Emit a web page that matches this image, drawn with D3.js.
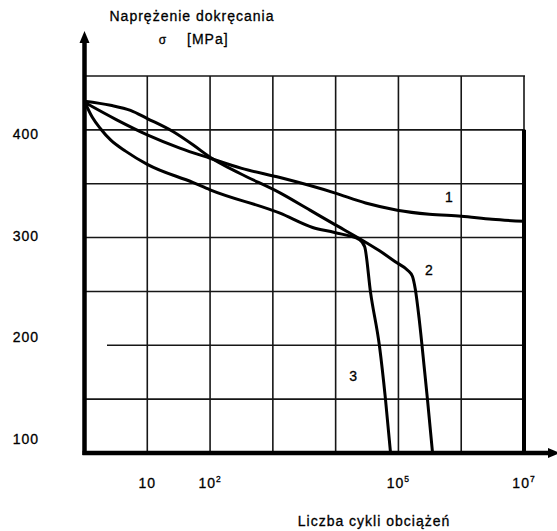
<!DOCTYPE html>
<html>
<head>
<meta charset="utf-8">
<script src="https://cdn.jsdelivr.net/npm/d3@7"></script>
<style>
  html, body { margin: 0; padding: 0; background: #fff; }
  svg { display: block; font-family: "Liberation Sans", Arial, sans-serif; }
</style>
</head>
<body>
<svg id="chart" width="557" height="531"></svg>
<script>
// Axis texts
const yTitle = "Naprężenie dokręcania";
const ySymbol = "σ";
const yUnit = "[MPa]";
const xTitle = "Liczba cykli obciążeń";

// Tick values
const stressTicks = [100, 200, 300, 400];
const cycleTickExponents = [1, 2, 5, 7];
const cycleGridValues = [1e1, 1e2, 1e3, 1e4, 1e5, 1e6];

// Curve 1 – stays high, flattens out towards 10^7 cycles
const curve1Cycles = [1, 3.2, 10, 33, 100, 320, 1.3e3, 9.6e3, 3e4, 9.6e4, 3.1e5, 1e6, 3.1e6, 1e7];
const curve1Stress = [431, 414, 399, 386, 376, 366, 357, 342, 332, 325, 321, 319, 316, 314];

// Curve 2 – bulges above at first, then breaks down past 10^5
const curve2Cycles = [1, 2.6, 5.4, 10, 26, 54, 100, 300, 1.3e3, 3.9e3, 9.6e3, 2.4e4, 5e4, 9.6e4, 1.4e5, 1.67e5, 1.86e5, 2.15e5, 2.6e5, 2.9e5, 3.5e5];
const curve2Stress = [432, 428, 423, 415, 402, 389, 377, 361, 342, 325, 311, 297, 285, 273, 266, 260, 247, 217, 168, 139, 86];

// Curve 3 – drops quickly, breaks down just above 10^4
const curve3Cycles = [1, 1.34, 1.8, 2.6, 4.5, 10, 54, 100, 1.3e3, 4.3e3, 9.6e3, 2.4e4, 2.9e4, 3.6e4, 5e4, 6.2e4, 7.5e4];
const curve3Stress = [432, 416, 405, 394, 383, 370, 352, 345, 322, 308, 303, 296, 289, 244, 191, 140, 86];

// Curve number labels, placed in data coordinates
const curveNames = ["1", "2", "3"];
const curveLabelCycles = [6.5e5, 3.1e5, 1.93e4];
const curveLabelStress = [338, 266, 162];

const series = [
  { cycles: curve1Cycles, stress: curve1Stress },
  { cycles: curve2Cycles, stress: curve2Stress },
  { cycles: curve3Cycles, stress: curve3Stress }
];

// Layout
const frame = { left: 84.5, right: 524, top: 76, bottom: 453 };
const ink = "#000";
const gridInk = "#161616";

const svg = d3.select("#chart");

const x = d3.scaleLog().domain([1, 1e7]).range([frame.left, frame.right]);
const y = d3.scaleLinear().domain([86.4, 456.8]).range([frame.bottom, frame.top]);

// Grid: one column per decade, seven equal rows
const grid = svg.append("g").attr("stroke", gridInk).attr("stroke-width", 1.6).attr("fill", "none");

grid.selectAll("line.v").data(cycleGridValues).join("line")
  .attr("class", "v")
  .attr("x1", d => x(d)).attr("x2", d => x(d))
  .attr("y1", frame.top).attr("y2", frame.bottom);

const rows = 7;
const rowYs = d3.range(0, rows).map(i => frame.top + i * (frame.bottom - frame.top) / rows);
grid.selectAll("line.h").data(rowYs).join("line")
  .attr("class", "h")
  .attr("x1", (d, i) => i === 5 ? frame.left + 22.5 : frame.left)
  .attr("x2", frame.right + 1)
  .attr("y1", d => d).attr("y2", d => d);

// Right border: thin at the top, heavy below
grid.append("line")
  .attr("x1", frame.right).attr("x2", frame.right)
  .attr("y1", frame.top).attr("y2", rowYs[1]);
svg.append("line")
  .attr("stroke", ink).attr("stroke-width", 4)
  .attr("x1", frame.right).attr("x2", frame.right)
  .attr("y1", rowYs[1]).attr("y2", frame.bottom);

// Curves
const line = d3.line()
  .x(d => x(d[0]))
  .y(d => y(d[1]))
  .curve(d3.curveMonotoneX);

svg.append("g").selectAll("path").data(series).join("path")
  .attr("fill", "none")
  .attr("stroke", ink)
  .attr("stroke-width", 3)
  .attr("stroke-linejoin", "round")
  .attr("d", s => line(s.cycles.map((c, i) => [c, s.stress[i]])));

// Axes with arrowheads
const axes = svg.append("g");
axes.append("line")
  .attr("stroke", ink).attr("stroke-width", 4.5)
  .attr("x1", frame.left).attr("x2", frame.left)
  .attr("y1", 40).attr("y2", frame.bottom + 2);
axes.append("path")
  .attr("fill", ink)
  .attr("d", `M${frame.left},31 L${frame.left - 5},43 L${frame.left + 5},43 Z`);

axes.append("line")
  .attr("stroke", ink).attr("stroke-width", 4.5)
  .attr("x1", frame.left - 2).attr("x2", 552)
  .attr("y1", frame.bottom).attr("y2", frame.bottom);
axes.append("path")
  .attr("fill", ink)
  .attr("d", `M560,${frame.bottom} L548,${frame.bottom - 5} L548,${frame.bottom + 5} Z`);

// Text
const text = svg.append("g")
  .attr("fill", ink)
  .attr("stroke", ink)
  .attr("stroke-width", 0.3)
  .attr("font-size", 14)
  .attr("letter-spacing", 1);

text.selectAll("text.ytick").data(stressTicks).join("text")
  .attr("class", "ytick")
  .attr("x", 39)
  .attr("y", d => y(d))
  .attr("dy", "0.36em")
  .attr("text-anchor", "end")
  .text(d => d);

const xt = text.selectAll("text.xtick").data(cycleTickExponents).join("text")
  .attr("class", "xtick")
  .attr("x", d => x(Math.pow(10, d)))
  .attr("y", 488)
  .attr("text-anchor", "middle");
xt.append("tspan").text("10");
xt.filter(d => d !== 1).append("tspan")
  .attr("font-size", 8.5)
  .attr("dy", -6)
  .text(d => d);

text.append("text")
  .attr("x", 192).attr("y", 21)
  .attr("text-anchor", "middle")
  .text(yTitle);
text.append("text")
  .attr("x", 163).attr("y", 44)
  .attr("text-anchor", "middle")
  .attr("font-size", 12)
  .text(ySymbol);
text.append("text")
  .attr("x", 187).attr("y", 44)
  .text(yUnit);

text.append("text")
  .attr("x", 374).attr("y", 526)
  .attr("text-anchor", "middle")
  .text(xTitle);

text.selectAll("text.cname").data(curveNames).join("text")
  .attr("class", "cname")
  .attr("x", (d, i) => x(curveLabelCycles[i]))
  .attr("y", (d, i) => y(curveLabelStress[i]))
  .attr("dy", "0.36em")
  .attr("text-anchor", "middle")
  .text(d => d);
</script>
</body>
</html>
